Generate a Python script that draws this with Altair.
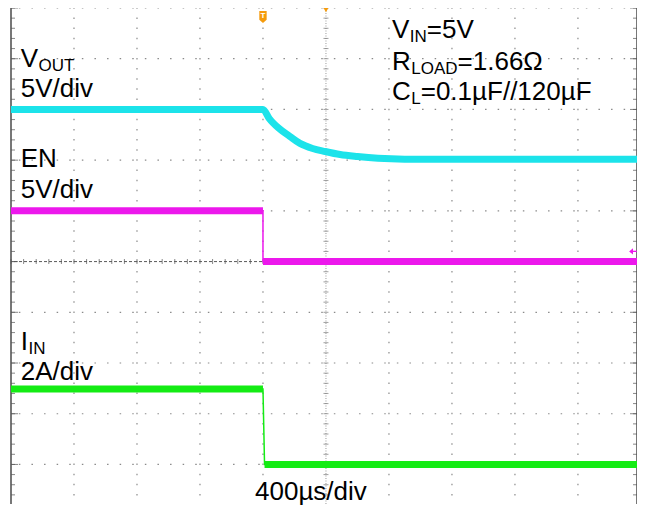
import altair as alt
import pandas as pd

# ---------------- data (read from the scope capture) ----------------
# time in microseconds from left edge of screen (400 us/div, 10 div)
t_vout = [0, 1600, 1640, 1700, 1770, 1835, 1915, 1995, 2090, 2200, 2330, 2500, 4000]
v_vout = [5.0, 5.0, 4.1, 3.15, 2.35, 1.65, 1.15, 0.85, 0.55, 0.35, 0.18, 0.1, 0.08]

t_en = [0, 1600, 1600, 4000]
v_en = [5.0, 5.0, 0.0, 0.0]
seg_en = ["hi", "hi", "lo", "lo"]

t_iin = [0, 1600, 1610, 4000]
a_iin = [2.98, 2.98, 0.0, 0.0]
seg_iin = ["hi", "hi", "lo", "lo"]

# channel ground positions (divisions from bottom) and scale per division
gnd_vout, scale_vout = 7, 5.0
gnd_en, scale_en = 5, 5.0
gnd_iin, scale_iin = 1, 2.0

trigger_t = [1600]
center_t = [2000]

# ---------------- styling ----------------
C_CYAN = "#1CE3EA"
C_MAG = "#EC18EC"
C_GRN = "#14EC14"
C_ORANGE = "#F59B0C"
FONT = "Liberation Sans"
F_MAIN, F_SUB = 26, 17

# visible window of the screen (slightly cropped at right/bottom to fit page)
T_MAX = 3975
D_MIN = 0.22
W, H = 626, 496
xs = alt.Scale(domain=[0, T_MAX], nice=False, zero=False)
ys = alt.Scale(domain=[D_MIN, 10], nice=False, zero=False)
X = lambda f="t": alt.X(f + ":Q", scale=xs, axis=None)
Y = lambda f="div": alt.Y(f + ":Q", scale=ys, axis=None)

# ---------------- grid ----------------
vgrid = pd.DataFrame({"t": [400 * k for k in range(1, 10) if k != 5]})
hgrid = pd.DataFrame({"div": [k for k in range(1, 11) if k != 5]})
minor_y = pd.DataFrame({"div": [k * 0.2 for k in range(2, 51)]})
minor_x = pd.DataFrame({"t": [k * 80 for k in range(50)]})
major_y = pd.DataFrame({"div": list(range(1, 11))})

GRID_C = "#8a8a8a"
layers = []
layers.append(alt.Chart(vgrid).mark_rule(color=GRID_C, strokeWidth=1.2, strokeDash=[1.5, 8.64], strokeDashOffset=0.75).encode(
    x=X(), y=alt.value(0), y2=alt.value(H)))
layers.append(alt.Chart(hgrid).mark_rule(color=GRID_C, strokeWidth=1.2, strokeDash=[1.5, 11.1], strokeDashOffset=0.75).encode(y=Y()))

# center cross
layers.append(alt.Chart(pd.DataFrame({"t": center_t})).mark_rule(color="#9a9a9a", strokeWidth=1, strokeDash=[1, 1.5]).encode(x=X()))
layers.append(alt.Chart(pd.DataFrame({"div": [5]})).mark_rule(color="#5a5a5a", strokeWidth=1, strokeDash=[3, 2]).encode(y=Y()))
layers.append(alt.Chart(minor_y).transform_calculate(t="2000").mark_tick(orient="horizontal", size=5, thickness=1, color="#777").encode(x=X(), y=Y()))
layers.append(alt.Chart(minor_x).transform_calculate(div="5").mark_tick(orient="vertical", size=5, thickness=1, color="#555").encode(x=X(), y=Y()))

# borders
for tb, off in [(0, 1), (T_MAX, -1)]:
    layers.append(alt.Chart(pd.DataFrame({"t": [tb]})).mark_rule(color="#555", strokeWidth=1.6).encode(x=X()))
    layers.append(alt.Chart(minor_y).transform_calculate(t=str(tb)).mark_tick(orient="horizontal", size=4, thickness=1, color="#555", xOffset=2 * off).encode(x=X(), y=Y()))
    layers.append(alt.Chart(major_y).transform_calculate(t=str(tb)).mark_tick(orient="horizontal", size=7, thickness=1, color="#555", xOffset=3.5 * off).encode(x=X(), y=Y()))

# ---------------- traces ----------------
df_vout = pd.DataFrame({"t": t_vout, "val": v_vout, "i": range(len(t_vout))})
df_en = pd.DataFrame({"t": t_en, "val": v_en, "seg": seg_en, "i": range(len(t_en))})
df_iin = pd.DataFrame({"t": t_iin, "val": a_iin, "seg": seg_iin, "i": range(len(t_iin))})

layers.append(alt.Chart(df_vout).transform_calculate(div=f"datum.val/{scale_vout}+{gnd_vout}")
              .mark_line(color=C_CYAN, strokeWidth=7, interpolate="monotone", clip=True).encode(x=X(), y=Y(), order="i:Q"))

for df, g, s, c in [(df_en, gnd_en, scale_en, C_MAG), (df_iin, gnd_iin, scale_iin, C_GRN)]:
    base = alt.Chart(df).transform_calculate(div=f"datum.val/{s}+{g}")
    layers.append(base.mark_line(color=c, strokeWidth=1.5, clip=True).encode(x=X(), y=Y(), order="i:Q"))
    layers.append(base.mark_line(color=c, strokeWidth=7, clip=True).encode(x=X(), y=Y(), detail="seg:N", order="i:Q"))

# ---------------- markers ----------------
layers.append(alt.Chart(pd.DataFrame({"t": trigger_t})).mark_point(
    shape="M-0.6,-1 L0.6,-1 L0.6,0.45 L0,1 L-0.6,0.45 Z", filled=True, opacity=1, size=150, color=C_ORANGE
).encode(x=X(), y=alt.value(9)))
layers.append(alt.Chart(pd.DataFrame({"t": trigger_t})).mark_text(
    text="T", font=FONT, fontSize=8, fontWeight="bold", color="white", baseline="middle"
).encode(x=X(), y=alt.value(8)))
layers.append(alt.Chart(pd.DataFrame({"t": center_t})).mark_point(
    shape="triangle-down", filled=True, opacity=1, size=40, color=C_ORANGE
).encode(x=X(), y=alt.value(1.5)))
layers.append(alt.Chart(pd.DataFrame({"t": [T_MAX], "div": [gnd_en + 0.2]})).mark_point(
    shape="M-1,0 L0,-0.8 L0,-0.15 L1,-0.15 L1,0.15 L0,0.15 L0,0.8 Z", filled=True, opacity=1, size=60, color=C_MAG, xOffset=-4
).encode(x=X(), y=Y()))

# ---------------- labels ----------------
AW = {'V': 667, 'O': 778, 'U': 722, 'T': 611, 'E': 667, 'N': 722, 'I': 278, 'R': 722,
      'L': 556, 'D': 722, 'A': 667, 'C': 722}


def tw(s, size):
    return sum(AW.get(ch, 556) for ch in s) * size / 1000.0


one = pd.DataFrame({"a": [0]})


def label(txt, xi, yi, size=F_MAIN):
    return alt.Chart(one).mark_text(text=txt, font=FONT, fontSize=size, align="left",
                                    baseline="alphabetic", color="black").encode(
        x=alt.value(xi - 11), y=alt.value(yi - 8))


def sub_label(main, sub, rest, xi, yi):
    out = [label(main, xi, yi)]
    x2 = xi + tw(main, F_MAIN) + 0.5
    out.append(label(sub, x2, yi + 4, F_SUB))
    if rest:
        out.append(label(rest, x2 + tw(sub, F_SUB), yi))
    return out


layers += sub_label("V", "OUT", "", 20.7, 67)
layers.append(label("5V/div", 20.7, 97))
layers.append(label("EN", 20.7, 167))
layers.append(label("5V/div", 20.7, 198))
layers += sub_label("I", "IN", "", 20.7, 350)
layers.append(label("2A/div", 20.7, 380))
layers.append(label("400µs/div", 255, 500))
layers += sub_label("V", "IN", "=5V", 392, 38)
layers += sub_label("R", "LOAD", "=1.66Ω", 392, 70)
layers += sub_label("C", "L", "=0.1µF//120µF", 392, 100)

chart = alt.layer(*layers).properties(
    width=W, height=H,
    padding={"left": 3, "top": 0, "right": 0, "bottom": 5},
    autosize=alt.AutoSizeParams(type="none"),
    background="white",
).configure_view(stroke=None)

chart.save("out.html", embed_options={"renderer": "svg", "actions": False})
